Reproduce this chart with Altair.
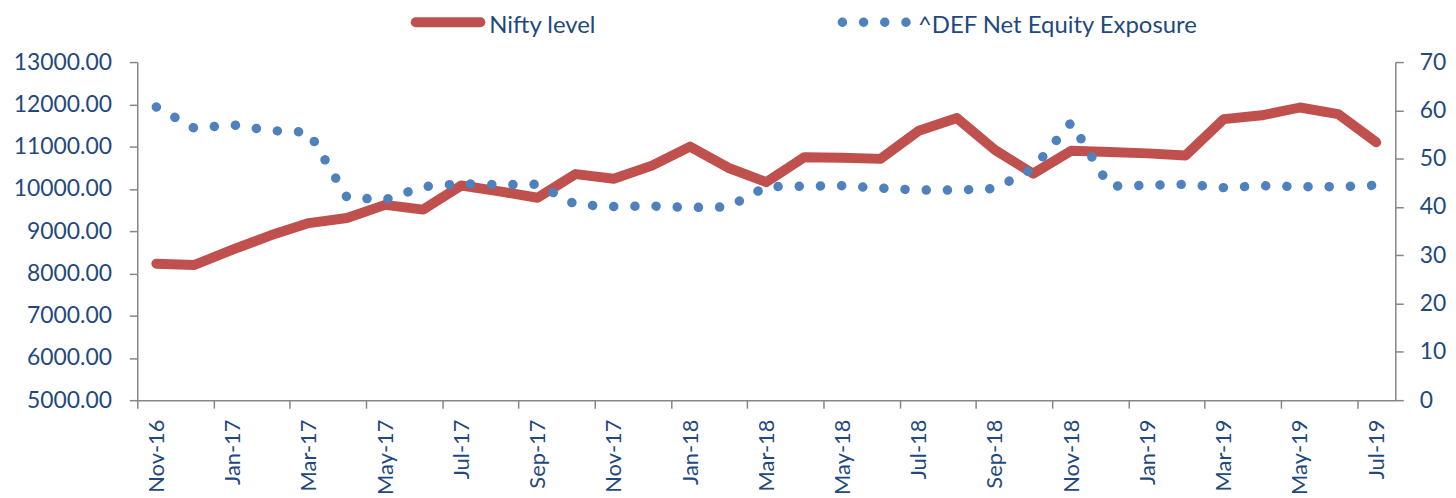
import altair as alt
import pandas as pd

months = ["Nov-16", "Dec-16", "Jan-17", "Feb-17", "Mar-17", "Apr-17", "May-17", "Jun-17",
          "Jul-17", "Aug-17", "Sep-17", "Oct-17", "Nov-17", "Dec-17", "Jan-18", "Feb-18",
          "Mar-18", "Apr-18", "May-18", "Jun-18", "Jul-18", "Aug-18", "Sep-18", "Oct-18",
          "Nov-18", "Dec-18", "Jan-19", "Feb-19", "Mar-19", "Apr-19", "May-19", "Jun-19",
          "Jul-19"]

nifty = [8230, 8200, 8560, 8900, 9190, 9310, 9620, 9510,
         10080, 9940, 9790, 10350, 10240, 10550, 11000, 10500,
         10160, 10750, 10735, 10710, 11375, 11675, 10920, 10360,
         10900, 10870, 10840, 10790, 11650, 11740, 11925, 11770,
         11100]

def_exposure = [60.7, 56.3, 57.0, 55.8, 55.5, 42.0, 41.5, 44.2,
                44.8, 44.6, 44.7, 40.5, 40.1, 40.2, 39.9, 40.0,
                44.2, 44.3, 44.4, 43.9, 43.5, 43.5, 43.8, 48.0,
                57.5, 44.3, 44.5, 44.7, 44.0, 44.4, 44.2, 44.2,
                44.5]

left_ticks = list(range(5000, 13001, 1000))
right_ticks = list(range(0, 71, 10))
x_label_idx = list(range(0, len(months), 2))

df = pd.DataFrame({"idx": list(range(len(months))), "month": months,
                   "nifty": nifty, "def": def_exposure})

W, H = 1265, 340
half = W / len(months) / 2
TXT = "#1F497D"
AX = "#868686"
FONT = "Lato"

label_expr = "[" + ",".join("'%s'" % m for m in months) + "][datum.value]"

x_enc = alt.X(
    "idx:Q",
    scale=alt.Scale(domain=[-0.5, len(months) - 0.5], nice=False, zero=False),
    axis=alt.Axis(
        title=None, values=x_label_idx, labelExpr=label_expr, labelAngle=270,
        labelAlign="right", labelBaseline="middle", tickOffset=-half, labelOffset=half,
        labelFontSize=22, labelPadding=11, tickSize=8, grid=False,
    ),
)

red = alt.Chart(df).mark_line(
    color="#C0504D", strokeWidth=10, strokeCap="round", strokeJoin="round"
).encode(
    x=x_enc,
    y=alt.Y("nifty:Q", scale=alt.Scale(domain=[5000, 13000], nice=False, zero=False),
            axis=alt.Axis(title=None, orient="left", values=left_ticks, format=".2f",
                          labelFontSize=23, labelPadding=18, tickSize=8, grid=False)),
)

blue = alt.Chart(df).mark_line(
    color="#4F81BD", strokeWidth=9.5, strokeCap="round", strokeDash=[0.1, 21.2]
).encode(
    x=x_enc,
    y=alt.Y("def:Q", scale=alt.Scale(domain=[0, 70], nice=False, zero=False),
            axis=alt.Axis(title=None, orient="right", values=right_ticks,
                          labelFontSize=23, labelPadding=16, tickSize=8, grid=False)),
)

one = pd.DataFrame({"k": [0]})
leg_red = alt.Chart(one).mark_rule(color="#C0504D", strokeWidth=10, strokeCap="round").encode(
    x=alt.value(280), x2=alt.value(345), y=alt.value(-40))
leg_red_txt = alt.Chart(one).mark_text(
    align="left", baseline="alphabetic", fontSize=24, font=FONT, color=TXT
).encode(x=alt.value(354), y=alt.value(-29), text=alt.value("Nifty level"))
leg_blue = alt.Chart(one).mark_rule(
    color="#4F81BD", strokeWidth=9.5, strokeCap="round", strokeDash=[0.1, 21.2]
).encode(x=alt.value(709), x2=alt.value(775), y=alt.value(-40))
leg_blue_txt = alt.Chart(one).mark_text(
    align="left", baseline="alphabetic", fontSize=24, font=FONT, color=TXT
).encode(x=alt.value(785), y=alt.value(-29), text=alt.value("^DEF Net Equity Exposure"))

chart = alt.layer(red, blue, leg_red, leg_red_txt, leg_blue, leg_blue_txt).resolve_scale(
    y="independent"
).properties(
    width=W, height=H,
    autosize=alt.AutoSizeParams(type="none"),
    padding={"left": 130, "top": 53, "right": 53, "bottom": 97},
).configure_axis(
    domainColor=AX, tickColor=AX, domainWidth=1.5, tickWidth=1.5,
    labelColor=TXT, labelFont=FONT,
).configure_view(strokeWidth=0)

chart.save("out.html", embed_options={"renderer": "svg", "actions": False})
